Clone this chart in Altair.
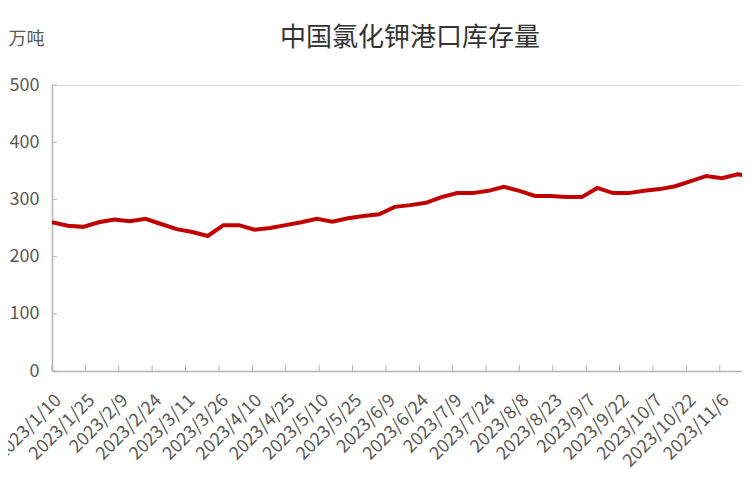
import altair as alt
import pandas as pd

title_text = "中国氯化钾港口库存量"
unit_text = "万吨"

tick_labels = ["2023/1/10", "2023/1/25", "2023/2/9", "2023/2/24", "2023/3/11", "2023/3/26",
               "2023/4/10", "2023/4/25", "2023/5/10", "2023/5/25", "2023/6/9", "2023/6/24",
               "2023/7/9", "2023/7/24", "2023/8/8", "2023/8/23", "2023/9/7", "2023/9/22",
               "2023/10/7", "2023/10/22", "2023/11/6"]

inventory = [260, 254, 252, 260, 265, 262, 266, 257, 248, 243, 236, 255, 255, 247, 250,
             255, 260, 266, 261, 267, 271, 274, 287, 290, 294, 304, 311, 311, 315, 322,
             315, 306, 306, 304, 304, 320, 311, 311, 315, 318, 323, 332, 341, 337, 344, 340]

y_ticks = [0, 100, 200, 300, 400, 500]

dates = pd.date_range("2023-01-10", periods=len(inventory), freq="7D")
df = pd.DataFrame({"date": dates.strftime("%Y-%m-%d"), "value": inventory})

tick_ms = [int(pd.to_datetime(s, format="%Y/%m/%d").timestamp() * 1000) for s in tick_labels]
dom_start = int(pd.Timestamp("2023-01-10").timestamp() * 1000)
dom_end = int(pd.Timestamp("2023-11-16").timestamp() * 1000)

xticks_df = pd.DataFrame({"t": tick_ms})
yticks_df = pd.DataFrame({"v": y_ticks})

FONT = "Noto Sans CJK SC"
AX = "#b4b4b4"
LBL = "#595959"

xscale = alt.Scale(type="utc", domain=[dom_start, dom_end])
yscale = alt.Scale(domain=[0, 500])

x_axis = alt.Axis(values=tick_ms, labelExpr="utcFormat(datum.value, '%Y/%-m/%-d')",
                  labelAngle=-45, labelAlign="right", labelBaseline="top",
                  labelPadding=20, labelFontSize=18, labelColor=LBL, labelFont=FONT,
                  ticks=False, grid=False, domainColor=AX, domainWidth=1.5,
                  title=None, labelOverlap=False, labelBound=False, labelFlush=False)
y_axis = alt.Axis(values=y_ticks, labelFontSize=18, labelColor=LBL, labelFont=FONT,
                  labelPadding=13, ticks=False, grid=False, domainColor=AX,
                  domainWidth=1.5, title=unit_text, titleAngle=0, titleAlign="right",
                  titleBaseline="middle", titleX=-8, titleY=-46, titleFontSize=18,
                  titleFontWeight="normal", titleColor=LBL, titleFont=FONT,
                  labelOverlap=False)

line = alt.Chart(df).mark_line(color="#c00000", strokeWidth=4, clip=True).encode(
    x=alt.X("date:T", scale=xscale, axis=x_axis),
    y=alt.Y("value:Q", scale=yscale, axis=y_axis),
)

xt = alt.Chart(xticks_df).mark_rule(color=AX, strokeWidth=1, y2Offset=-6).encode(
    x=alt.X("t:T", scale=xscale, axis=x_axis),
    y=alt.datum(0, scale=yscale, axis=y_axis),
    y2=alt.datum(0),
)

yt = alt.Chart(yticks_df).mark_rule(color=AX, strokeWidth=1, x2Offset=5).encode(
    y=alt.Y("v:Q", scale=yscale, axis=y_axis),
    x=alt.datum(dom_start, type="temporal", scale=xscale, axis=x_axis),
    x2=alt.datum(dom_start),
)

chart = alt.layer(line, xt, yt).properties(
    width=690, height=286,
    autosize=alt.AutoSizeParams(type="none"),
    padding={"left": 44, "top": 77, "right": 0, "bottom": 110},
    title=alt.Title(title_text, fontSize=26, font=FONT, color="#333333", fontWeight="normal",
                    anchor="middle", frame="group", dx=13, offset=-47, baseline="bottom"),
).configure_view(stroke=None).configure_axis(labelOverlap=False).configure(background="white")

chart.save("out.html", embed_options={"renderer": "svg", "actions": False})
